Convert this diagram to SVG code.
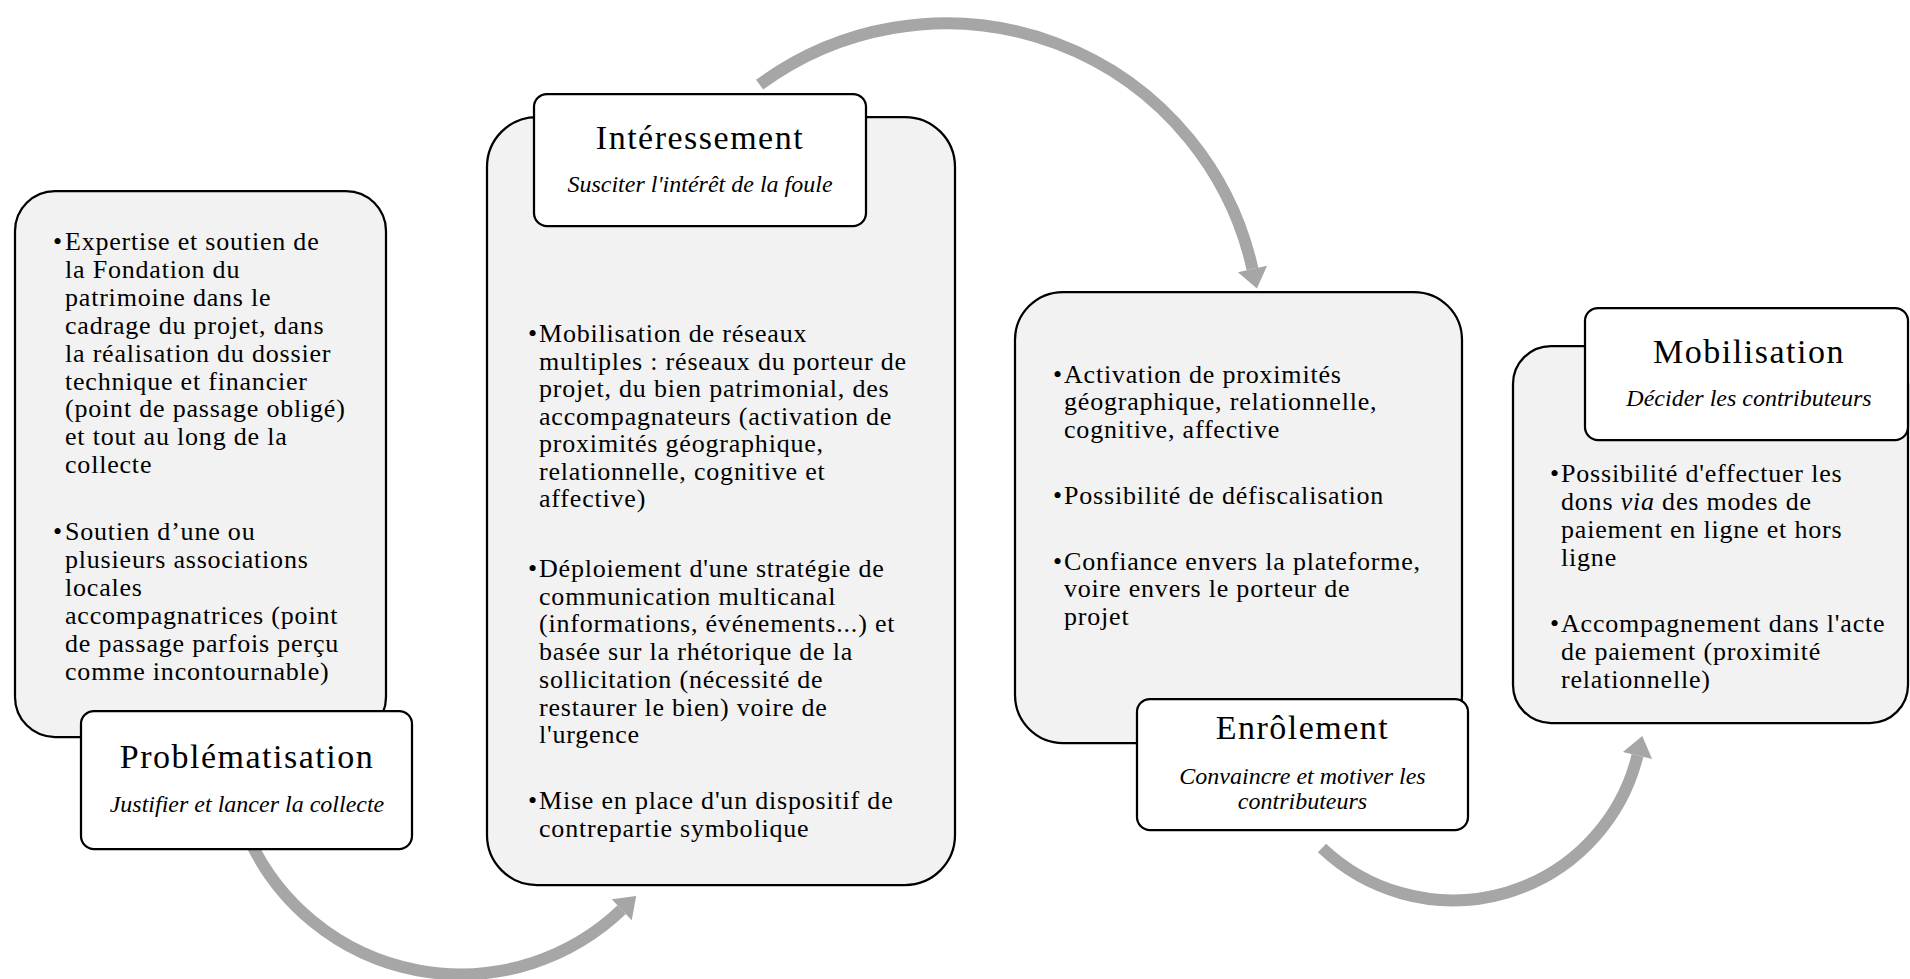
<svg xmlns="http://www.w3.org/2000/svg" width="1910" height="979" viewBox="0 0 1910 979">
<style>
.box{fill:#F2F2F2;stroke:#000;stroke-width:2.25}
.lbl{fill:#FFFFFF;stroke:#000;stroke-width:2.25}
.body{font-family:"Liberation Serif","DejaVu Serif",serif;font-size:26px;letter-spacing:0.8px;fill:#000}
.bul{font-family:"Liberation Serif","DejaVu Serif",serif;font-size:26px;fill:#000}
.title{font-family:"Liberation Serif","DejaVu Serif",serif;font-size:34px;letter-spacing:1.5px;text-anchor:middle;fill:#000}
.sub{font-family:"Liberation Serif","DejaVu Serif",serif;font-size:24px;font-style:italic;text-anchor:middle;fill:#000}
.arc{fill:none;stroke:#A6A6A6;stroke-width:12}
.head{fill:#A6A6A6}
</style>
<rect x="0" y="0" width="1910" height="979" fill="#FFFFFF"/>
<g id="connectors">
  <path class="arc" d="M 249.6 840 A 233 233 0 0 0 621.7 909.7"/>
  <polygon class="head" points="636.2,895.9 631.7,920.2 611.7,899.2"/>
  <path class="arc" d="M 759.6 84.7 A 314 314 0 0 1 1252.5 269"/>
  <polygon class="head" points="1256.9,288.5 1267.1,265.7 1237.9,272.3"/>
  <path class="arc" d="M 1322 848 A 190 190 0 0 0 1637.5 755.5"/>
  <polygon class="head" points="1642.3,736.1 1652.1,759.1 1622.9,751.9"/>
</g>
<g id="node-problematisation">
  <rect class="box" x="15" y="191" width="371" height="546" rx="40" ry="40"/>
  <text class="bul" x="53" y="250">•</text>
  <text class="body">
    <tspan x="65" y="250">Expertise et soutien de</tspan>
    <tspan x="65" y="277.9">la Fondation du</tspan>
    <tspan x="65" y="305.8">patrimoine dans le</tspan>
    <tspan x="65" y="333.7">cadrage du projet, dans</tspan>
    <tspan x="65" y="361.6">la réalisation du dossier</tspan>
    <tspan x="65" y="389.5">technique et financier</tspan>
    <tspan x="65" y="417.4">(point de passage obligé)</tspan>
    <tspan x="65" y="445.3">et tout au long de la</tspan>
    <tspan x="65" y="473.2">collecte</tspan>
  </text>
  <text class="bul" x="53" y="540">•</text>
  <text class="body">
    <tspan x="65" y="540">Soutien d’une ou</tspan>
    <tspan x="65" y="567.9">plusieurs associations</tspan>
    <tspan x="65" y="595.8">locales</tspan>
    <tspan x="65" y="623.7">accompagnatrices (point</tspan>
    <tspan x="65" y="651.6">de passage parfois perçu</tspan>
    <tspan x="65" y="679.5">comme incontournable)</tspan>
  </text>
  <rect class="lbl" x="81" y="711" width="331" height="138" rx="13" ry="13"/>
  <text class="title" x="247" y="768">Problématisation</text>
  <text class="sub" x="247" y="812">Justifier et lancer la collecte</text>
</g>
<g id="node-interessement">
  <rect class="box" x="487" y="117" width="468" height="768" rx="50" ry="50"/>
  <text class="bul" x="528" y="342">•</text>
  <text class="body">
    <tspan x="539" y="342">Mobilisation de réseaux</tspan>
    <tspan x="539" y="369.5">multiples : réseaux du porteur de</tspan>
    <tspan x="539" y="397">projet, du bien patrimonial, des</tspan>
    <tspan x="539" y="424.5">accompagnateurs (activation de</tspan>
    <tspan x="539" y="452">proximités géographique,</tspan>
    <tspan x="539" y="479.5">relationnelle, cognitive et</tspan>
    <tspan x="539" y="507">affective)</tspan>
  </text>
  <text class="bul" x="528" y="577">•</text>
  <text class="body">
    <tspan x="539" y="577">Déploiement d'une stratégie de</tspan>
    <tspan x="539" y="604.7">communication multicanal</tspan>
    <tspan x="539" y="632.4">(informations, événements...) et</tspan>
    <tspan x="539" y="660.1">basée sur la rhétorique de la</tspan>
    <tspan x="539" y="687.8">sollicitation (nécessité de</tspan>
    <tspan x="539" y="715.5">restaurer le bien) voire de</tspan>
    <tspan x="539" y="743.2">l'urgence</tspan>
  </text>
  <text class="bul" x="528" y="808.5">•</text>
  <text class="body">
    <tspan x="539" y="808.5">Mise en place d'un dispositif de</tspan>
    <tspan x="539" y="836.5">contrepartie symbolique</tspan>
  </text>
  <rect class="lbl" x="534" y="94" width="332" height="132" rx="13" ry="13"/>
  <text class="title" x="700" y="149">Intéressement</text>
  <text class="sub" x="700" y="192">Susciter l'intérêt de la foule</text>
</g>
<g id="node-enrolement">
  <rect class="box" x="1015" y="292" width="447" height="451" rx="48" ry="48"/>
  <text class="bul" x="1053" y="382.5">•</text>
  <text class="body">
    <tspan x="1064" y="382.5">Activation de proximités</tspan>
    <tspan x="1064" y="410.2">géographique, relationnelle,</tspan>
    <tspan x="1064" y="437.9">cognitive, affective</tspan>
  </text>
  <text class="bul" x="1053" y="503.5">•</text>
  <text class="body">
    <tspan x="1064" y="503.5">Possibilité de défiscalisation</tspan>
  </text>
  <text class="bul" x="1053" y="569.5">•</text>
  <text class="body">
    <tspan x="1064" y="569.5">Confiance envers la plateforme,</tspan>
    <tspan x="1064" y="597.2">voire envers le porteur de</tspan>
    <tspan x="1064" y="624.9">projet</tspan>
  </text>
  <rect class="lbl" x="1137" y="699" width="331" height="131" rx="13" ry="13"/>
  <text class="title" x="1302.5" y="739">Enrôlement</text>
  <text class="sub" x="1302.5" y="784">Convaincre et motiver les</text>
  <text class="sub" x="1302.5" y="809">contributeurs</text>
</g>
<g id="node-mobilisation">
  <rect class="box" x="1513" y="346" width="395" height="377" rx="38" ry="38"/>
  <text class="bul" x="1550" y="482">•</text>
  <text class="body">
    <tspan x="1561" y="482">Possibilité d'effectuer les</tspan>
    <tspan x="1561" y="510">dons <tspan font-style="italic">via</tspan> des modes de</tspan>
    <tspan x="1561" y="538">paiement en ligne et hors</tspan>
    <tspan x="1561" y="566">ligne</tspan>
  </text>
  <text class="bul" x="1550" y="632">•</text>
  <text class="body">
    <tspan x="1561" y="632">Accompagnement dans l'acte</tspan>
    <tspan x="1561" y="660">de paiement (proximité</tspan>
    <tspan x="1561" y="688">relationnelle)</tspan>
  </text>
  <rect class="lbl" x="1585" y="308" width="323" height="132" rx="13" ry="13"/>
  <text class="title" x="1749" y="363">Mobilisation</text>
  <text class="sub" x="1749" y="406">Décider les contributeurs</text>
</g>
</svg>
